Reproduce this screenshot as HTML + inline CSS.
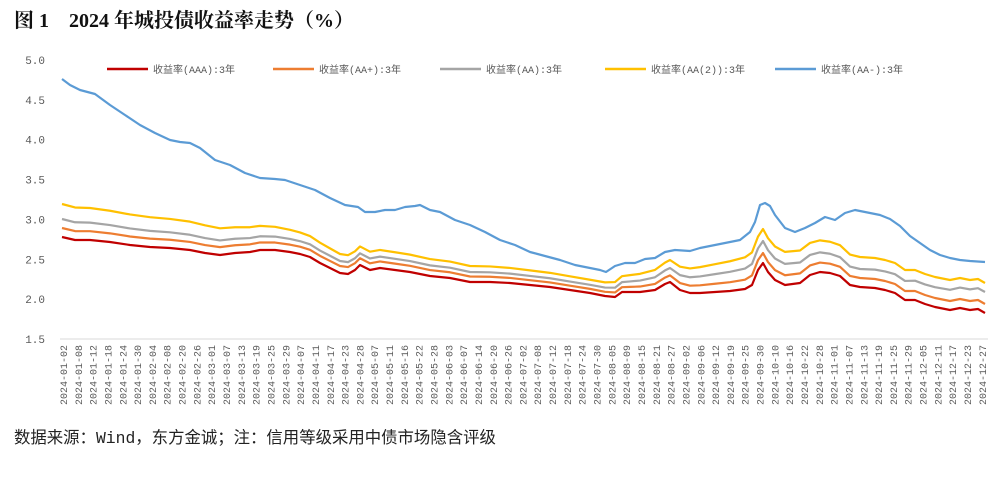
<!DOCTYPE html>
<html><head><meta charset="utf-8"><style>
body{margin:0;background:#fff;width:1004px;height:488px;overflow:hidden}
svg{display:block}
</style></head><body>
<svg id="s" width="1004" height="488" xmlns="http://www.w3.org/2000/svg">
<text x="14" y="27" font-family="Liberation Serif,'Noto Serif CJK SC',serif" font-weight="bold" font-size="20" fill="#111">图 1　2024 年城投债收益率走势（%）</text>
<text x="14" y="443" font-family="'Liberation Mono','Noto Sans CJK SC',sans-serif" font-size="16.4" fill="#222">数据来源：Wind，东方金诚；注：信用等级采用中债市场隐含评级</text>
<line x1="60" y1="339" x2="988" y2="339" stroke="#d9d9d9" stroke-width="1"/>
<g id="yl" font-family="'Liberation Mono',monospace" font-size="11" fill="#595959" text-anchor="end"></g>
<g id="xl" font-family="'Liberation Mono',monospace" font-size="10" fill="#595959"></g>
<g id="lg" font-family="'Liberation Mono','Noto Sans CJK SC',sans-serif" font-size="10" fill="#595959"></g>
<g id="ser" fill="none" stroke-width="2.2" stroke-linejoin="round"></g>
</svg>
<script>
var NS="http://www.w3.org/2000/svg";
function el(p,t,a,txt){var e=document.createElementNS(NS,t);for(var k in a)e.setAttribute(k,a[k]);if(txt)e.textContent=txt;document.getElementById(p).appendChild(e);return e;}
for(var i=0;i<8;i++){var v=5-i*0.5;el('yl','text',{x:45,y:64+i*39.85},v.toFixed(1));}
var d="01-02,01-08,01-12,01-18,01-24,01-30,02-04,02-08,02-20,02-26,03-01,03-07,03-13,03-19,03-25,03-29,04-07,04-11,04-17,04-23,04-28,05-07,05-11,05-16,05-22,05-28,06-03,06-07,06-14,06-20,06-26,07-02,07-08,07-12,07-18,07-24,07-30,08-05,08-09,08-15,08-21,08-27,09-02,09-06,09-12,09-19,09-25,09-30,10-10,10-16,10-22,10-28,11-01,11-07,11-13,11-19,11-25,11-29,12-05,12-11,12-17,12-23,12-27".split(",");
for(var i=0;i<d.length;i++){var x=63+i*14.82+4;el('xl','text',{x:0,y:0,transform:"translate("+x+",345) rotate(-90)","text-anchor":"end"},"2024-"+d[i]);}
var red=[[62,237],[75,240],[90,240],[110,242],[130,245],[150,247],[170,248],[190,250],[205,253],[220,255],[235,253],[250,252],[260,250],[275,250],[290,252],[300,254],[310,257],[320,263],[330,268],[340,273],[348,274],[355,270],[360,265],[370,270],[380,268],[395,270],[410,272],[430,276],[450,278],[470,282],[490,282],[510,283],[530,285],[550,287],[570,290],[590,293],[605,296],[615,297],[622,292],[630,292],[640,292],[655,290],[665,284],[670,282],[680,290],[690,293],[700,293],[715,292],[730,291],[745,289],[752,285],[758,270],[763,263],[768,272],[775,280],[785,285],[800,283],[810,275],[820,272],[830,273],[840,276],[850,285],[860,287],[875,288],[885,290],[895,293],[905,300],[915,300],[925,304],[935,307],[950,310],[960,308],[970,310],[978,309],[985,313]];
var blue=[[62,79],[70,85],[80,90],[95,94],[110,105],[125,115],[140,125],[155,133],[170,140],[180,142],[190,143],[200,148],[215,160],[230,165],[245,173],[260,178],[275,179],[285,180],[300,185],[315,190],[330,198],[345,205],[358,207],[365,212],[375,212],[385,210],[395,210],[405,207],[415,206],[420,205],[430,210],[440,212],[455,220],[470,225],[485,232],[500,240],[515,245],[530,252],[545,256],[560,260],[575,265],[590,268],[600,270],[606,272],[615,266],[625,263],[635,263],[645,259],[655,258],[665,252],[675,250],[690,251],[700,248],[715,245],[730,242],[740,240],[750,232],[755,222],[760,205],[765,203],[770,206],[775,215],[785,228],[795,232],[805,228],[815,223],[825,217],[835,220],[845,213],[855,210],[865,212],[875,214],[880,215],[890,219],[900,226],[910,236],[920,243],[930,250],[940,255],[950,258],[960,260],[970,261],[985,262]];
function interp(k,x){for(var i=0;i<k.length-1;i++){if(x<=k[i+1][0]){var t=(x-k[i][0])/(k[i+1][0]-k[i][0]);return k[i][1]+t*(k[i+1][1]-k[i][1]);}}return k[k.length-1][1];}
function off(k){return red.map(function(p){return [p[0],p[1]-interp(k,p[0])];});}
var orange=off([[62,9],[340,7],[600,4],[763,10],[860,9],[985,9]]);
var gray=off([[62,18],[340,12],[600,8],[763,22],[860,18],[985,21]]);
var yellow=off([[62,33],[200,28],[340,19],[600,13],[763,34],[860,30],[985,30]]);
var S=[[red,"#c00000","收益率(AAA):3年",107],[orange,"#ed7d31","收益率(AA+):3年",273],[gray,"#a5a5a5","收益率(AA):3年",440],[yellow,"#ffc000","收益率(AA(2)):3年",605],[blue,"#5b9bd5","收益率(AA-):3年",775]];
for(var j=S.length-1;j>=0;j--){el('ser','polyline',{points:S[j][0].map(function(p){return p.join(",")}).join(" "),stroke:S[j][1]});}
S.forEach(function(s){el('lg','line',{x1:s[3],y1:69,x2:s[3]+41,y2:69,stroke:s[1],"stroke-width":2.5});el('lg','text',{x:s[3]+46,y:73},s[2]);});
</script>
</body></html>
